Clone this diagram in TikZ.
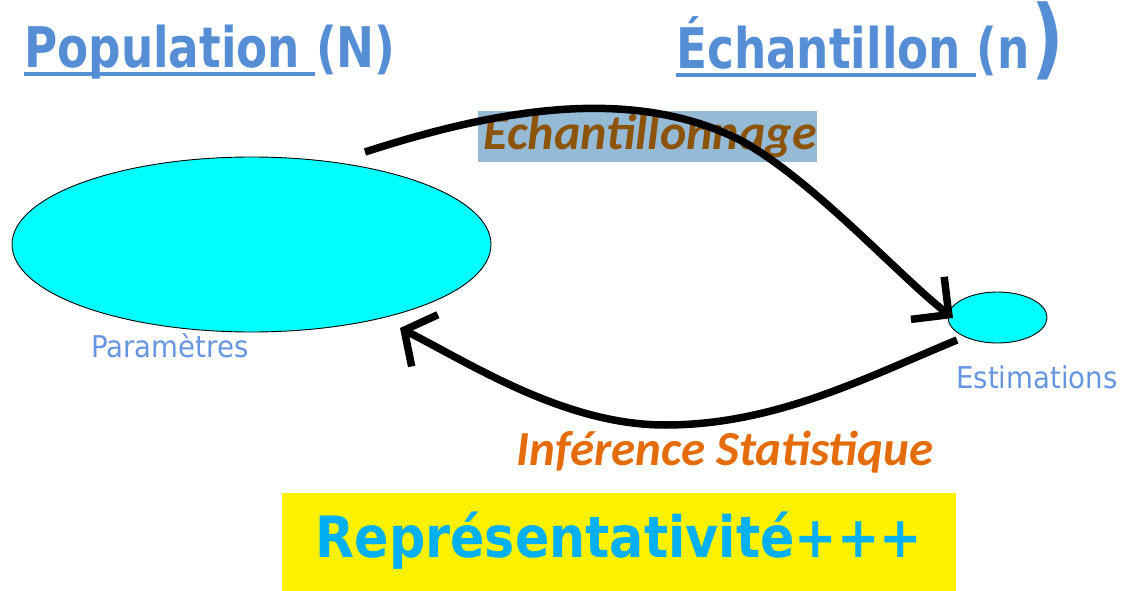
\documentclass[tikz,border=0pt]{standalone}
\usepackage{fontspec}
\usetikzlibrary{arrows.meta,shapes.geometric}
\newfontfamily\titlefont[FakeStretch=0.81]{DejaVu Sans}
\newfontfamily\labfont[FakeStretch=0.92]{DejaVu Sans}
\newfontfamily\repfont[FakeStretch=0.89]{DejaVu Sans}
\newfontfamily\calfont{Carlito}
\definecolor{titleblue}{RGB}{85,142,213}
\definecolor{labblue}{RGB}{102,150,224}
\definecolor{boxblue}{RGB}{148,186,214}
\definecolor{brownish}{RGB}{140,84,8}
\definecolor{orangeish}{RGB}{228,108,10}
\definecolor{repcyan}{RGB}{0,176,240}
\definecolor{ellcyan}{RGB}{0,255,255}
\tikzset{
  titletext/.style={inner sep=0pt, anchor=base west, text=titleblue, font=\titlefont\bfseries\fontsize{56}{60}\selectfont},
  ulstyle/.style={draw=titleblue, line width=4.5pt},
  labtext/.style={inner sep=0pt, anchor=base west, text=labblue, font=\labfont\fontsize{30}{34}\selectfont},
  ellstyle/.style={ellipse, draw=black, line width=0.9pt, fill=ellcyan, inner sep=0pt},
  arrowtop/.style={line width=7.5pt, -{Straight Barb[length=27pt,width=54pt]}},
  arrowbot/.style={line width=7.5pt, -{Straight Barb[length=23pt,width=58pt]}},
  caltext/.style={inner sep=0pt, anchor=base, font=\calfont\bfseries\itshape\fontsize{50}{54}\selectfont},
}
\begin{document}
\begin{tikzpicture}[x=1pt,y=-1pt]
\useasboundingbox (0,0) rectangle (1128,591);
% titles
\node[titletext] (pop) at (24,68) {Population (N)};
\draw[ulstyle] ([yshift=-6pt]pop.base west) -- ++(291,0) coordinate (popend);
\node[titletext] (ech) at (676,69) {Échantillon (n};
\draw[ulstyle] ([yshift=-6pt]ech.base west) -- ++(300,0) coordinate (echend);
\node[inner sep=0pt, anchor=base west, text=titleblue, font=\titlefont\bfseries\fontsize{88}{90}\selectfont] (paren) at ([xshift=1pt]ech.base east) {)};
% ellipses
\node[ellstyle, minimum width=479pt, minimum height=175pt] (pop ell) at (251.5,244.5) {};
\node[ellstyle, minimum width=99pt, minimum height=51pt] (ech ell) at (997.5,317.5) {};
\node[labtext] (param) at (91,357) {Paramètres};
\node[labtext] (estim) at (956,388) {Estimations};
% echantillonnage label
\node[fill=boxblue, inner sep=0pt, minimum width=339pt, minimum height=51pt] (echbox) at (647.5,136.5) {};
\node[caltext, text=brownish] (echlab) at (650,150) {Echantillonnage};
% inference label
\node[caltext, text=orangeish, font=\calfont\bfseries\itshape\fontsize{49}{54}\selectfont] (inflab) at (725,465) {Inférence Statistique};
% representativite
\node[fill=yellow, inner sep=0pt, minimum width=674pt, minimum height=98pt] (repbox) at (619,542) {};
\node[inner sep=0pt, anchor=base, text=repcyan, font=\repfont\bfseries\fontsize{57}{60}\selectfont] (replab) at (619,557) {Représentativité+++};
% arrows
\coordinate (s1) at (365,152);
\coordinate (m1) at (740,140);
\coordinate (t1) at (953,318);
\coordinate (s2) at (957,340);
\coordinate (m2) at (665,425);
\coordinate (t2) at (400,328);
\draw[arrowtop] (s1) .. controls (495,110) and (630,85) .. (m1)
                     .. controls (813,180) and (898,275) .. (t1);
\draw[arrowbot] (s2) .. controls (865,378) and (775,425) .. (m2)
                     .. controls (565,425) and (471,364) .. (t2);
\end{tikzpicture}
\end{document}
